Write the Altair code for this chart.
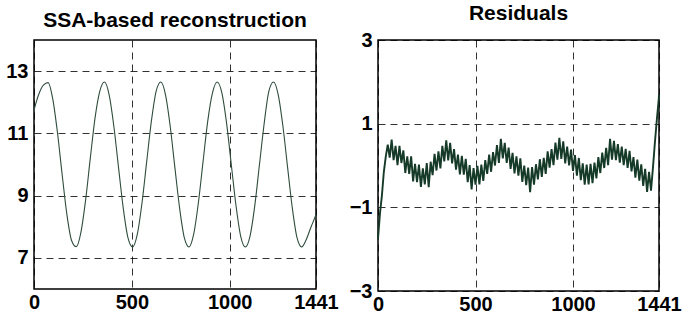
import altair as alt
import pandas as pd

# ---- Left panel: SSA-based reconstruction ----
recon_x = list(range(0, 1441, 24)) + [1441]
recon_y = [
    11.75, 12.25, 12.55, 12.63, 12.10, 11.02, 9.67, 8.40, 7.56, 7.36,
    7.83, 8.87, 10.22, 11.50, 12.35, 12.65, 12.24, 11.23, 9.90, 8.60,
    7.65, 7.35, 7.76, 8.77, 10.10, 11.40, 12.35, 12.65, 12.24, 11.23,
    9.90, 8.60, 7.65, 7.35, 7.76, 8.77, 10.10, 11.40, 12.30, 12.65,
    12.30, 11.33, 10.01, 8.69, 7.70, 7.35, 7.70, 8.67, 9.99, 11.31,
    12.35, 12.65, 12.24, 11.23, 9.90, 8.60, 7.65, 7.35, 7.60, 8.00,
    8.38, 8.40,
]

# ---- Right panel: Residuals ----
resid_x = list(range(0, 1441, 10)) + [1441]
resid_y = [
    -1.75, -1.15, -0.72, -0.15, 0.22, 0.50, 0.19, 0.62, 0.13, 0.47,
    0.01, 0.47, 0.06, 0.36, -0.18, 0.22, -0.20, 0.22, -0.38, 0.04,
    -0.40, 0.02, -0.51, -0.07, -0.45, 0.06, -0.52, 0.09, -0.23, 0.28,
    -0.12, 0.34, -0.07, 0.47, 0.10, 0.60, 0.12, 0.54, 0.05, 0.39,
    -0.10, 0.26, -0.21, 0.23, -0.22, 0.16, -0.40, 0.01, -0.57, -0.06,
    -0.46, -0.01, -0.45, 0.02, -0.37, 0.13, -0.20, 0.26, -0.15, 0.32,
    0.00, 0.49, 0.06, 0.64, 0.17, 0.54, 0.06, 0.43, -0.08, 0.30,
    -0.19, 0.22, -0.24, 0.17, -0.39, 0.00, -0.47, -0.05, -0.64, -0.04,
    -0.46, 0.03, -0.33, 0.15, -0.27, 0.18, -0.20, 0.34, -0.05, 0.39,
    0.01, 0.55, 0.14, 0.66, 0.16, 0.58, 0.05, 0.45, 0.00, 0.38,
    -0.13, 0.25, -0.24, 0.18, -0.35, 0.05, -0.46, 0.02, -0.45, 0.04,
    -0.42, 0.07, -0.31, 0.20, -0.18, 0.31, -0.06, 0.42, 0.01, 0.64,
    0.14, 0.59, 0.13, 0.51, 0.07, 0.45, 0.01, 0.40, -0.06, 0.35,
    -0.14, 0.20, -0.29, 0.14, -0.36, 0.03, -0.49, -0.08, -0.63, -0.15,
    -0.60, -0.05, 0.55, 1.10, 1.60, 1.70,
]

x_ticks = [0, 500, 1000, 1441]
left_y_ticks = [7, 9, 11, 13]
right_y_ticks = [-3, -1, 1, 3]

df_left = pd.DataFrame({"x": recon_x, "y": recon_y})
df_right = pd.DataFrame({"x": resid_x, "y": resid_y})

title_style = dict(fontSize=21, fontWeight="bold", font="Liberation Sans",
                   color="black", anchor="middle", frame="group")

def x_enc():
    return alt.X("x:Q",
                 scale=alt.Scale(domain=[0, 1441], nice=False, zero=False),
                 axis=alt.Axis(values=x_ticks, title=None, labelPadding=3,
                               labelFlush=False, format="d"))

left = alt.Chart(df_left).mark_line(
    color="#2e4d3d", strokeWidth=1.1, interpolate="monotone"
).encode(
    x=x_enc(),
    y=alt.Y("y:Q", scale=alt.Scale(domain=[6, 14], nice=False, zero=False),
            axis=alt.Axis(values=left_y_ticks, title=None, labelPadding=6,
                          labelFlush=False, format="d")),
).properties(
    width=282, height=249,
    title=alt.TitleParams("SSA-based reconstruction", offset=9, **title_style),
)

right = alt.Chart(df_right).mark_line(
    color="#163a28", strokeWidth=1.9
).encode(
    x=x_enc(),
    y=alt.Y("y:Q", scale=alt.Scale(domain=[-3, 3], nice=False, zero=False),
            axis=alt.Axis(values=right_y_ticks, title=None, labelPadding=6,
                          labelFlush=False, format="d")),
).properties(
    width=281, height=251,
    title=alt.TitleParams("Residuals", offset=6, **title_style),
)

chart = alt.hconcat(left, right, spacing=62, bounds="flush").properties(
    padding={"left": 5, "top": 2, "right": 0, "bottom": 0},
    background="white",
).configure_view(
    stroke="black", strokeWidth=1.5
).configure_axis(
    labelFont="Liberation Sans", labelFontSize=20, labelFontWeight="bold",
    labelColor="black", ticks=False, domain=False,
    grid=True, gridColor="black", gridOpacity=0.8, gridDash=[7, 5], gridWidth=1,
)

chart.save("out.html", embed_options={"renderer": "svg", "actions": False})
